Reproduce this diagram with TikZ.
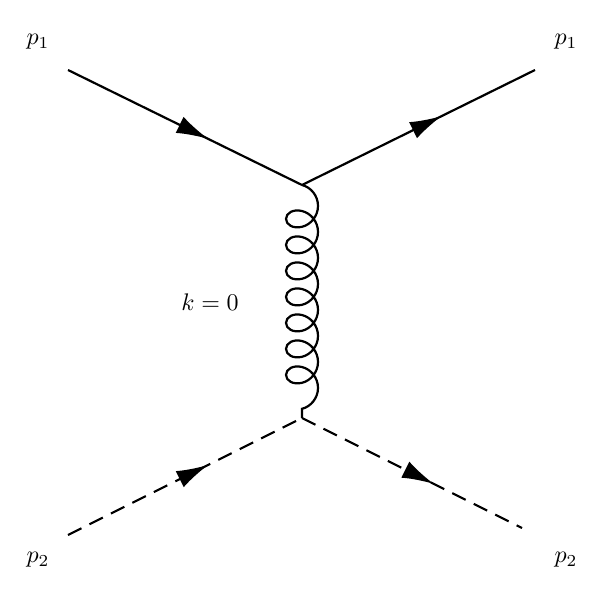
\documentclass[tikz,border=0pt]{standalone}
\usetikzlibrary{decorations.pathmorphing,decorations.markings,arrows.meta}
\begin{document}
\begin{tikzpicture}[x=1pt,y=-1pt,
  fermion/.style={line width=2.2pt,postaction={decorate},decoration={markings,mark=at position 0.6 with {\arrow{Latex[length=32pt,width=18pt]}}}},
  scalar/.style={fermion,dash pattern=on 15pt off 9pt},
  gluon/.style={line width=2.2pt,decorate,decoration={coil,aspect=0.9,segment length=26pt,amplitude=16pt}},
  lbl/.style={scale=2.4}]
\useasboundingbox (0,0) rectangle (604,589);
\coordinate (a1) at (68,70);
\coordinate (b1) at (535,70);
\coordinate (v1) at (302,185);
\coordinate (v2) at (302,418);
\coordinate (a2) at (68,535);
\coordinate (b2) at (522,528);
\draw[fermion] (a1) -- (v1);
\draw[fermion] (v1) -- (b1);
\draw[gluon] (v1) -- (v2);
\draw[scalar] (a2) -- (v2);
\draw[scalar] (v2) -- (b2);
\node[lbl] (l1) at (38,42) {$p_1$};
\node[lbl] (l2) at (566,42) {$p_1$};
\node[lbl] (l3) at (38,560) {$p_2$};
\node[lbl] (l4) at (566,560) {$p_2$};
\node[lbl] (lk) at (210,302) {$k=0$};
\end{tikzpicture}
\end{document}
